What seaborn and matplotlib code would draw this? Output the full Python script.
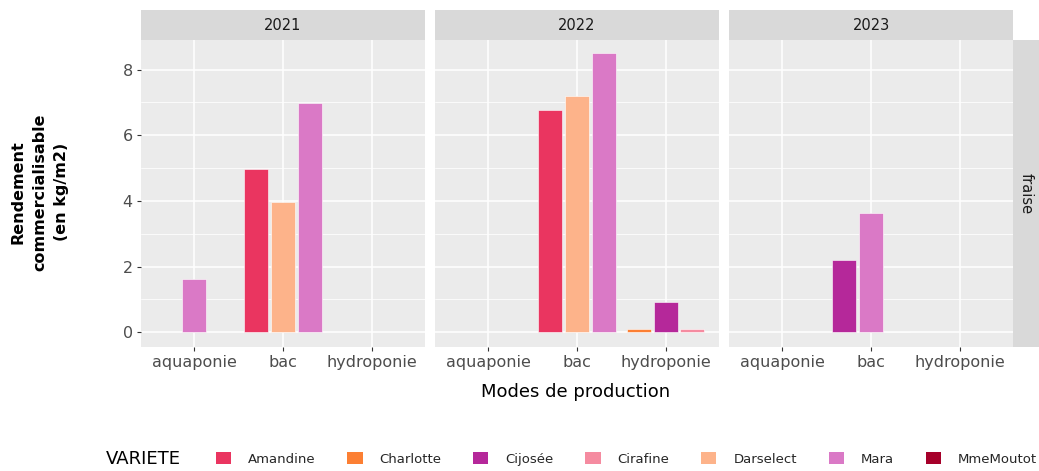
import matplotlib
matplotlib.use("Agg")
import matplotlib.pyplot as plt
from matplotlib.patches import Patch
from matplotlib.ticker import MultipleLocator
import seaborn as sns
import pandas as pd
import numpy as np

# ---------------- data ----------------
annees = [2021, 2022, 2023]
modes = ["aquaponie", "bac", "hydroponie"]
varietes = ["Amandine", "Charlotte", "Cijosée", "Cirafine", "Darselect", "Mara", "MmeMoutot"]
couleurs = ["#EA3560", "#FC7F33", "#B5289A", "#F58BA0", "#FDB38A", "#DA79C6", "#A6002A"]

annee = [2021, 2021, 2021, 2021, 2022, 2022, 2022, 2022, 2022, 2022, 2023, 2023, 2023]
mode = ["aquaponie", "bac", "bac", "bac", "bac", "bac", "bac",
        "hydroponie", "hydroponie", "hydroponie", "bac", "bac", "bac"]
variete = ["Mara", "Amandine", "Darselect", "Mara", "Amandine", "Darselect", "Mara",
           "Charlotte", "Cijosée", "Cirafine", "Cijosée", "Mara", "MmeMoutot"]
rendement = [1.62, 4.96, 3.97, 6.97, 6.78, 7.20, 8.49, 0.11, 0.93, 0.09, 2.20, 3.63, 0.02]

df = pd.DataFrame({"annee": annee, "mode": mode, "variete": variete, "rendement": rendement})

# dodge2 (preserve single) style positions: bars centred on each category
slot = 0.3
df["base"] = df["mode"].map({m: i for i, m in enumerate(modes)})
df["rank"] = df.groupby(["annee", "mode"]).cumcount()
df["n"] = df.groupby(["annee", "mode"])["variete"].transform("count")
df["pos"] = df["base"] + (df["rank"] - (df["n"] - 1) / 2) * slot

palette = dict(zip(varietes, couleurs))

# ---------------- style ----------------
sns.set_theme(style="darkgrid", rc={
    "axes.facecolor": "#EBEBEB",
    "grid.color": "white",
    "axes.edgecolor": "#EBEBEB",
})
plt.rcParams["font.family"] = ["DejaVu Sans"]

W, H = 1039, 471
fig = plt.figure(figsize=(W / 100, H / 100), dpi=100)
fig.patch.set_facecolor("white")

def fx(px):
    return px / W

def fy(py):
    return 1 - py / H

panel_x = [141, 435, 729]
panel_w = 284
top, bottom = 40, 347
strip_top = 10

for i, an in enumerate(annees):
    ax = fig.add_axes([fx(panel_x[i]), fy(bottom), panel_w / W, (bottom - top) / H])
    sub = df[df["annee"] == an]
    sns.barplot(data=sub, x="pos", y="rendement", hue="variete", palette=palette,
                native_scale=True, dodge=False, width=0.9, legend=False, saturation=1,
                edgecolor="white", linewidth=0.4, ax=ax, errorbar=None)
    # enforce bar width relative to the slot
    for p in ax.patches:
        c = p.get_x() + p.get_width() / 2
        p.set_width(slot * 0.9)
        p.set_x(c - slot * 0.45)
    ax.set_xlim(-0.6, 2.6)
    ax.set_ylim(-0.45, 8.9)
    ax.set_xticks(range(len(modes)))
    ax.set_xticklabels(modes, fontsize=11.5, color="#4D4D4D")
    ax.yaxis.set_major_locator(MultipleLocator(2))
    ax.yaxis.set_minor_locator(MultipleLocator(1))
    ax.grid(which="major", color="white", linewidth=1.1)
    ax.grid(which="minor", axis="y", color="white", linewidth=0.55)
    ax.set_axisbelow(True)
    ax.tick_params(axis="both", which="major", length=3, width=0.8, color="#333333",
                   bottom=True, left=(i == 0), pad=3)
    ax.tick_params(axis="y", which="minor", length=0)
    ax.set_xlabel("")
    ax.set_ylabel("")
    if i == 0:
        ax.tick_params(axis="y", labelsize=11.5, labelcolor="#4D4D4D")
    else:
        ax.set_yticklabels([])
    for s in ax.spines.values():
        s.set_visible(False)

    # top strip
    sax = fig.add_axes([fx(panel_x[i]), fy(top), panel_w / W, (top - strip_top) / H])
    sax.set_facecolor("#D9D9D9")
    sax.set_xticks([]); sax.set_yticks([])
    sax.grid(False)
    for s in sax.spines.values():
        s.set_visible(False)
    sax.text(0.5, 0.5, str(an), ha="center", va="center", fontsize=10.5,
             color="#1A1A1A", transform=sax.transAxes)

# right strip
rx = panel_x[2] + panel_w
rax = fig.add_axes([fx(rx), fy(bottom), (W - rx) / W, (bottom - top) / H])
rax.set_facecolor("#D9D9D9")
rax.set_xticks([]); rax.set_yticks([])
rax.grid(False)
for s in rax.spines.values():
    s.set_visible(False)
rax.text(0.5, 0.5, "fraise", ha="center", va="center", rotation=-90, fontsize=10.5,
         color="#1A1A1A", transform=rax.transAxes)

# axis titles
fig.text(fx(40), fy(192), "Rendement\ncommercialisable\n(en kg/m2)",
         rotation=90, ha="center", va="center", multialignment="center",
         fontsize=11.5, fontweight="bold", color="black", linespacing=1.55)
fig.text(fx(576), fy(392), "Modes de production", ha="center", va="center",
         fontsize=13, color="black")

# legend
fig.text(fx(106), fy(459), "VARIETE", ha="left", va="center", fontsize=13, color="black")
handles = [Patch(facecolor=palette[v], edgecolor="none") for v in varietes]
fig.legend(handles, varietes, ncol=len(varietes), loc="center left",
           bbox_to_anchor=(fx(216), fy(459)), frameon=False, fontsize=9.5,
           handlelength=1.14, handleheight=1.05, handletextpad=1.3, columnspacing=2.4,
           borderaxespad=0, borderpad=0)

fig.savefig("out.png", dpi=100, facecolor="white")
